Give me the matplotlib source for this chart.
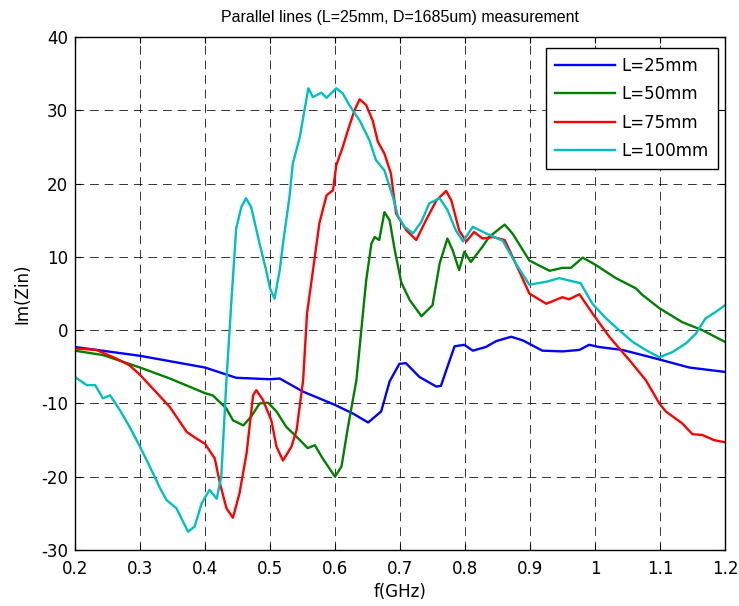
import numpy as np
import matplotlib
matplotlib.use("Agg")
import matplotlib.pyplot as plt

plt.rcParams['font.family'] = ['DejaVu Sans']
plt.rcParams['axes.unicode_minus'] = False

# L=25mm
f25 = [0.2, 0.3, 0.4, 0.448, 0.5, 0.515, 0.551, 0.6, 0.628, 0.651, 0.671, 0.684, 0.699,
       0.709, 0.73, 0.756, 0.763, 0.773, 0.784, 0.799, 0.812, 0.832, 0.848, 0.871, 0.889,
       0.919, 0.95, 0.976, 0.991, 1.006, 1.042, 1.073, 1.099, 1.145, 1.2]
z25 = [-2.3, -3.5, -5.1, -6.5, -6.7, -6.6, -8.4, -10.2, -11.4, -12.6, -11.1, -7.0, -4.6,
       -4.5, -6.4, -7.7, -7.6, -5.0, -2.2, -2.0, -2.8, -2.3, -1.5, -0.9, -1.4,
       -2.8, -2.9, -2.7, -2.0, -2.3, -2.7, -3.4, -4.0, -5.1, -5.7]

# L=50mm
f50 = [0.2, 0.243, 0.3, 0.346, 0.4, 0.412, 0.433, 0.443, 0.459, 0.471, 0.484, 0.497, 0.51,
       0.525, 0.546, 0.558, 0.569, 0.581, 0.6, 0.61, 0.62, 0.633, 0.643, 0.648, 0.656,
       0.661, 0.668, 0.676, 0.684, 0.692, 0.702, 0.715, 0.733, 0.75, 0.761, 0.773, 0.781,
       0.791, 0.799, 0.809, 0.827, 0.837, 0.861, 0.873, 0.899, 0.93, 0.95, 0.963, 0.981,
       1.001, 1.032, 1.063, 1.073, 1.099, 1.134, 1.165, 1.2]
z50 = [-2.8, -3.4, -5.1, -6.6, -8.6, -8.9, -10.7, -12.3, -13.0, -11.8, -10.0, -9.9, -11.1,
       -13.2, -15.0, -16.1, -15.7, -17.5, -20.0, -18.6, -13.2, -6.8, 2.3, 6.8, 11.8,
       12.7, 12.3, 16.1, 15.0, 10.9, 6.5, 4.1, 1.9, 3.4, 9.1, 12.5, 10.9,
       8.2, 10.7, 9.3, 11.4, 12.7, 14.4, 13.2, 9.5, 8.1, 8.5, 8.5, 9.9,
       8.9, 7.1, 5.7, 4.8, 3.0, 1.1, 0.0, -1.6]

# L=75mm
f75 = [0.2, 0.233, 0.264, 0.284, 0.3, 0.32, 0.346, 0.372, 0.387, 0.4, 0.415, 0.423, 0.433,
       0.443, 0.453, 0.464, 0.474, 0.479, 0.489, 0.502, 0.51, 0.52, 0.533, 0.541, 0.551,
       0.557, 0.564, 0.576, 0.587, 0.597, 0.602, 0.612, 0.62, 0.63, 0.638, 0.648, 0.658,
       0.666, 0.676, 0.686, 0.694, 0.71, 0.725, 0.74, 0.756, 0.771, 0.779, 0.791, 0.802,
       0.814, 0.827, 0.843, 0.861, 0.878, 0.899, 0.925, 0.95, 0.96, 0.976, 0.996, 1.022,
       1.053, 1.078, 1.099, 1.109, 1.134, 1.15, 1.165, 1.183, 1.2]
z75 = [-2.5, -2.7, -3.9, -4.8, -6.1, -8.0, -10.5, -13.9, -14.8, -15.5, -17.5, -20.9, -24.3,
       -25.6, -22.3, -16.8, -8.9, -8.2, -9.5, -12.3, -15.9, -17.8, -15.9, -13.6, -6.8,
       2.3, 6.8, 14.6, 18.4, 19.1, 22.5, 25.0, 27.3, 30.0, 31.5, 30.7, 28.6,
       25.7, 24.1, 21.4, 15.9, 13.6, 12.3, 15.0, 17.7, 19.0, 17.7, 13.6, 12.1,
       13.4, 12.5, 12.7, 12.3, 9.1, 5.0, 3.6, 4.5, 4.2, 4.9, 2.3, -0.9,
       -4.1, -6.8, -10.0, -11.1, -12.7, -14.2, -14.3, -15.0, -15.3]

# L=100mm
f100 = [0.2, 0.218, 0.231, 0.243, 0.254, 0.269, 0.284, 0.3, 0.315, 0.331, 0.341, 0.356,
        0.374, 0.384, 0.395, 0.407, 0.418, 0.425, 0.433, 0.441, 0.448, 0.456, 0.463, 0.471,
        0.484, 0.494, 0.5, 0.507, 0.515, 0.52, 0.53, 0.535, 0.546, 0.553, 0.559, 0.566,
        0.579, 0.587, 0.602, 0.612, 0.622, 0.638, 0.653, 0.663, 0.676, 0.689, 0.697, 0.707,
        0.72, 0.733, 0.745, 0.761, 0.773, 0.786, 0.797, 0.812, 0.83, 0.858, 0.878, 0.899,
        0.925, 0.945, 0.978, 0.996, 1.017, 1.037, 1.058, 1.078, 1.099, 1.119, 1.14, 1.155,
        1.17, 1.186, 1.2]
z100 = [-6.4, -7.5, -7.5, -9.3, -8.9, -10.9, -13.2, -15.9, -18.6, -21.6, -23.2, -24.3,
        -27.5, -26.8, -23.6, -21.8, -23.0, -20.0, -6.8, 4.5, 13.9, 16.8, 18.0, 16.8,
        11.8, 8.2, 5.7, 4.3, 8.2, 11.8, 18.2, 22.7, 26.4, 30.0, 33.0, 31.8,
        32.4, 31.7, 33.0, 32.3, 30.7, 28.6, 25.9, 23.2, 21.8, 18.2, 15.5, 14.1,
        13.2, 14.8, 17.3, 18.0, 16.4, 13.6, 12.1, 14.1, 13.3, 12.2, 9.1, 6.2,
        6.6, 7.1, 6.4, 3.6, 1.6, 0.0, -1.6, -2.7, -3.7, -3.0, -1.8, -0.5,
        1.6, 2.5, 3.4]

labels = ['L=25mm', 'L=50mm', 'L=75mm', 'L=100mm']
colors = ['#0000ff', '#008000', '#ff0000', '#00bfbf']

fig = plt.figure(figsize=(7.39, 6.06), dpi=100)
ax = fig.add_axes([75 / 739, 1 - 550 / 606, 650 / 739, 513 / 606])

for f, z, lab, c in zip([f25, f50, f75, f100], [z25, z50, z75, z100], labels, colors):
    ax.plot(f, z, color=c, lw=1.7, label=lab)

ax.set_xlim(0.2, 1.2)
ax.set_ylim(-30, 40)
ax.set_xticks(np.arange(0.2, 1.21, 0.1))
ax.set_xticklabels(['0.2', '0.3', '0.4', '0.5', '0.6', '0.7', '0.8', '0.9', '1', '1.1', '1.2'])
ax.set_yticks(np.arange(-30, 41, 10))
ax.grid(True, color='black', linestyle=(0, (9, 6)), linewidth=0.7, alpha=0.8)
ax.tick_params(direction='in', top=True, right=True, labelsize=12, length=4)
ax.tick_params(axis='x', pad=7)
ax.tick_params(axis='y', pad=5)
for s in ax.spines.values():
    s.set_linewidth(1.0)

ax.set_title('Parallel lines (L=25mm, D=1685um) measurement', fontsize=11.5,
             family='Liberation Sans', pad=11)
ax.set_xlabel('f(GHz)', fontsize=12, labelpad=4)
ax.set_ylabel('Im(Zin)', fontsize=12, labelpad=7)

leg = ax.legend(loc='upper right', bbox_to_anchor=(0.989, 0.979), borderaxespad=0,
                fontsize=12, fancybox=False, framealpha=1, edgecolor='black',
                handlelength=3.6, borderpad=0.55, labelspacing=0.62, handletextpad=0.4)
leg.get_frame().set_linewidth(1.0)

fig.savefig('out.png', dpi=100)
